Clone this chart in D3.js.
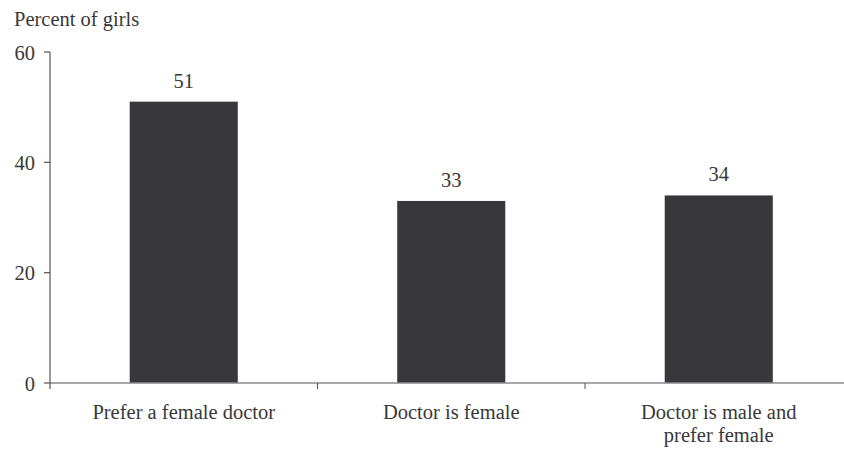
<!DOCTYPE html>
<html><head><meta charset="utf-8">
<script src="https://cdn.jsdelivr.net/npm/d3@7"></script>
<style>body{margin:0;background:#fff}svg{display:block}</style>
</head><body>
<svg id="c" width="844" height="450"></svg>
<script>
const categories = [["Prefer a female doctor"],["Doctor is female"],["Doctor is male and","prefer female"]];
const values = [51, 33, 34];
const yTicks = [0, 20, 40, 60];
const yTitle = "Percent of girls";

const svg = d3.select("#c").attr("font-family", "Liberation Serif");
const fs = 20.5;
const x = d3.scaleBand().domain(d3.range(categories.length)).range([50, 852.5]).paddingInner(0.596).paddingOuter(0.298);
const xb = d3.scaleBand().domain(d3.range(categories.length)).range([50, 852.5]);
const y = d3.scaleLinear().domain([0, 60]).range([383, 52]);
const axisCol = "#8a8a8a";
const txtCol = "#383838";

svg.selectAll("rect.bar").data(values).join("rect").attr("class","bar")
  .attr("x",(d,i)=>x(i)).attr("width",x.bandwidth())
  .attr("y",d=>y(d)).attr("height",d=>y(0)-y(d)).attr("fill","#38373c");

svg.append("line").attr("x1",50).attr("x2",844).attr("y1",y(0)).attr("y2",y(0)).attr("stroke",axisCol).attr("stroke-width",1.5);
const bounds = d3.range(1, categories.length).map(i=> xb(i));
svg.selectAll("line.xt").data(bounds).join("line").attr("class","xt")
  .attr("x1",d=>d).attr("x2",d=>d).attr("y1",y(0)).attr("y2",y(0)+6).attr("stroke","#555").attr("stroke-width",1);

svg.append("line").attr("x1",50).attr("x2",50).attr("y1",y(60)).attr("y2",y(0)+6).attr("stroke","#555").attr("stroke-width",1.2);
svg.selectAll("line.yt").data(yTicks).join("line").attr("class","yt")
  .attr("x1",44).attr("x2",50).attr("y1",d=>y(d)).attr("y2",d=>y(d)).attr("stroke","#555").attr("stroke-width",1.2);
svg.selectAll("text.yl").data(yTicks).join("text").attr("class","yl")
  .attr("x",35).attr("y",d=>y(d)+7.5).attr("text-anchor","end").attr("font-size",fs).attr("fill",txtCol).text(d=>d);

svg.append("text").attr("x",14).attr("y",26).attr("font-size",fs).attr("fill",txtCol).text(yTitle);

svg.selectAll("text.vl").data(values).join("text").attr("class","vl")
  .attr("x",(d,i)=>x(i)+x.bandwidth()/2).attr("y",d=>y(d)-14).attr("text-anchor","middle").attr("font-size",fs).attr("fill",txtCol).text(d=>d);

categories.forEach((lines,i)=>{
  const cx = xb(i)+xb.bandwidth()/2;
  const t = svg.append("text").attr("x",cx).attr("y",419).attr("text-anchor","middle").attr("font-size",fs).attr("fill",txtCol);
  lines.forEach((l,j)=>t.append("tspan").attr("x",cx).attr("dy",j?23:0).text(l));
});
</script>
</body></html>
